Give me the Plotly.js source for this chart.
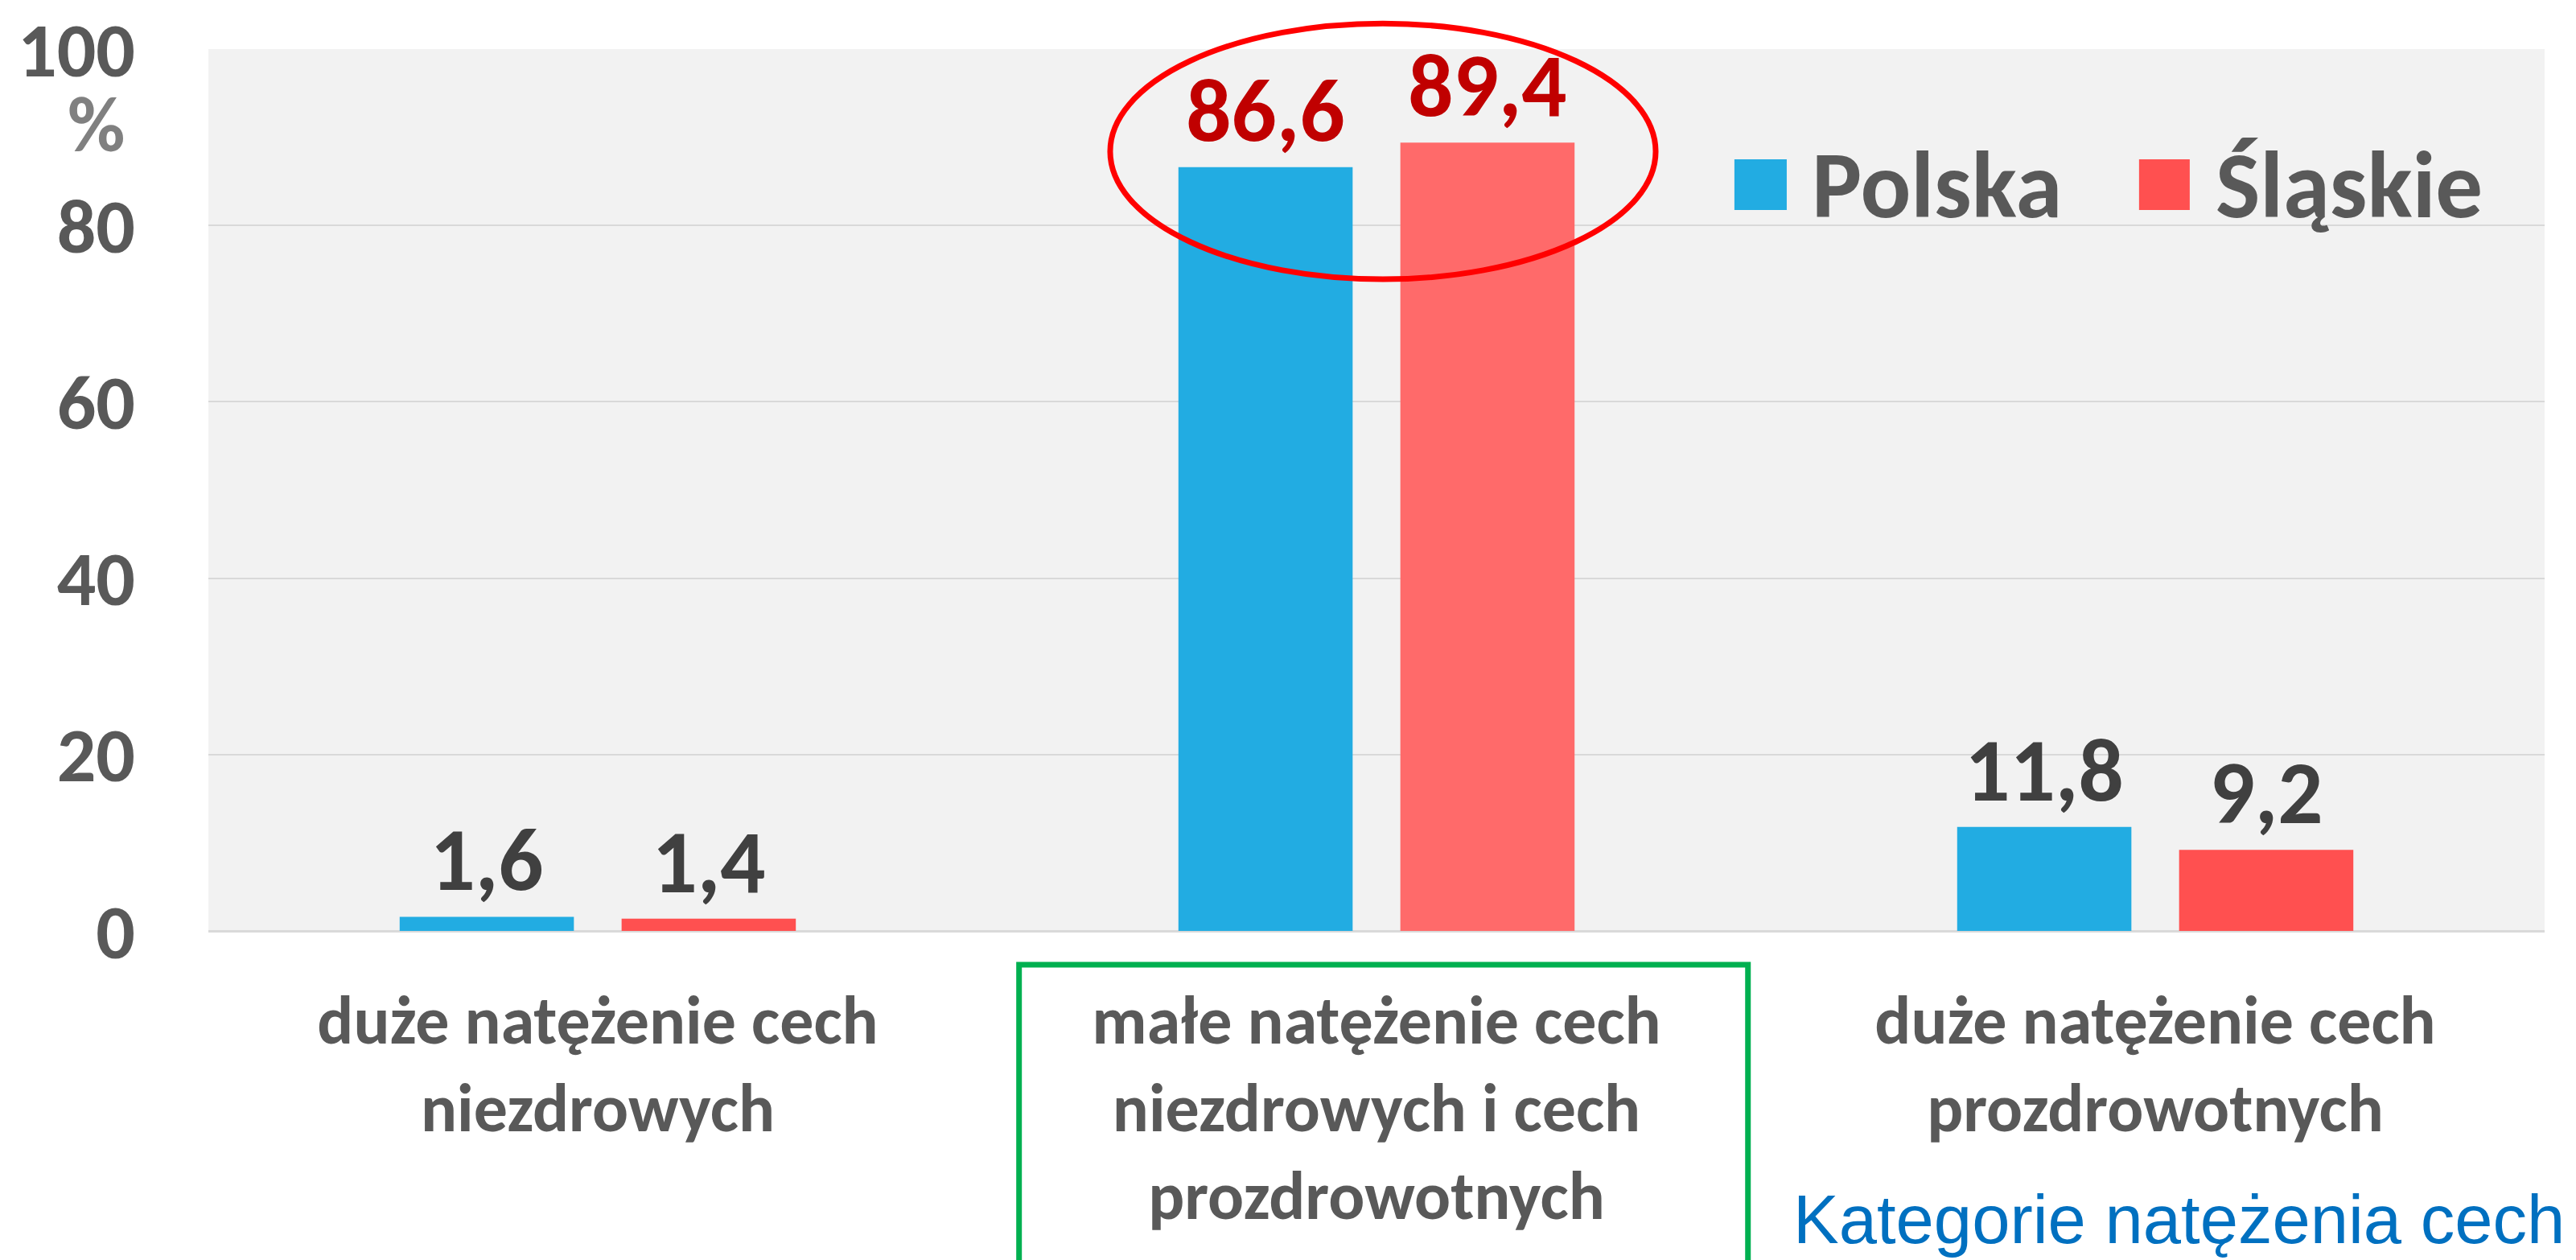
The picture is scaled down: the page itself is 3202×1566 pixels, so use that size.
<!DOCTYPE html>
<html>
<head>
<meta charset="utf-8">
<script src="https://cdn.plot.ly/plotly-3.0.1.min.js"></script>
<style>
  html, body { margin: 0; padding: 0; background: #ffffff; }
  #chart { width: 3202px; height: 1566px; }
</style>
</head>
<body>
<div id="chart"></div>
<script>
// ---- data ----
const categories = [
  'duże natężenie cech<br>niezdrowych',
  'małe natężenie cech<br>niezdrowych i cech<br>prozdrowotnych',
  'duże natężenie cech<br>prozdrowotnych'
];
const seriesNames = ['Polska', 'Śląskie'];
const polska = [1.6, 86.6, 11.8];
const slaskie = [1.4, 89.4, 9.2];
const yTickValues = [0, 20, 40, 60, 80, 100];
const yTickLabels = ['0', '20', '40', '60', '80', '100'];
const yUnit = '%';
const xAxisTitle = 'Kategorie natężenia cech';

// ---- styles ----
const FONT = 'Carlito, Lato, "Open Sans", sans-serif';
const blue = '#22ACE2';
const redLegend = '#FF5050';
const redBars = ['#FF5050', '#FF6A6A', '#FF5050'];
const labelColors = ['#404040', '#C00000', '#404040'];

const common = {
  type: 'bar',
  x: categories,
  texttemplate: '%{y:.1f}',
  textposition: 'outside',
  cliponaxis: false,
  textfont: { family: FONT, size: 111, weight: 'bold', color: labelColors },
  hoverinfo: 'skip',
  showlegend: false
};

const traces = [
  Object.assign({}, common, { name: seriesNames[0], y: polska, marker: { color: blue, line: { width: 0 } } }),
  Object.assign({}, common, { name: seriesNames[1], y: slaskie, marker: { color: redBars, line: { width: 0 } } })
];

const layout = {
  width: 3202,
  height: 1566,
  margin: { l: 259, r: 39, t: 61, b: 409, pad: 0 },
  paper_bgcolor: '#ffffff',
  plot_bgcolor: '#F2F2F2',
  separators: ', ',
  barmode: 'group',
  bargap: 0.43,
  bargroupgap: 0.215,
  showlegend: false,
  font: { family: FONT, color: '#595959' },
  xaxis: {
    type: 'category',
    showgrid: false,
    showline: false,
    zeroline: false,
    ticks: '',
    ticklabelstandoff: 55,
    tickfont: { family: FONT, size: 84, weight: 'bold', color: '#595959' },
    fixedrange: true
  },
  yaxis: {
    range: [0, 100],
    tickmode: 'array',
    tickvals: yTickValues,
    ticktext: yTickLabels,
    showgrid: true,
    gridcolor: '#D9D9D9',
    gridwidth: 2,
    zeroline: true,
    zerolinecolor: '#D9D9D9',
    zerolinewidth: 3,
    showline: false,
    ticks: '',
    ticklabelstandoff: 90,
    tickfont: { family: FONT, size: 96, weight: 'bold', color: '#595959' },
    fixedrange: true
  },
  shapes: [
    // red ellipse around middle values
    { type: 'circle', xref: 'paper', yref: 'paper', x0: 0.386, x1: 0.6195, y0: 0.739, y1: 1.029,
      line: { color: '#FF0000', width: 7 }, fillcolor: 'rgba(0,0,0,0)', layer: 'above' },
    // green frame around middle category label
    { type: 'rect', xref: 'paper', yref: 'paper', x0: 0.347, x1: 0.659, y0: -0.0383, y1: -0.45,
      line: { color: '#00B050', width: 7 }, fillcolor: 'rgba(0,0,0,0)', layer: 'above' },
    // legend swatches
    { type: 'rect', xref: 'paper', yref: 'paper', x0: 0.6532, x1: 0.6756, y0: 0.8175, y1: 0.875,
      line: { width: 0 }, fillcolor: blue },
    { type: 'rect', xref: 'paper', yref: 'paper', x0: 0.8264, x1: 0.8481, y0: 0.8175, y1: 0.875,
      line: { width: 0 }, fillcolor: redLegend }
  ],
  annotations: [
    { text: seriesNames[0], xref: 'paper', yref: 'paper', x: 0.6856, y: 0.8458, xanchor: 'left', yanchor: 'middle',
      showarrow: false, font: { family: FONT, size: 117, weight: 'bold', color: '#595959' } },
    { text: seriesNames[1], xref: 'paper', yref: 'paper', x: 0.8585, y: 0.8458, xanchor: 'left', yanchor: 'middle',
      showarrow: false, font: { family: FONT, size: 117, weight: 'bold', color: '#595959' } },
    { text: yUnit, xref: 'paper', yref: 'paper', x: -0.0479, y: 0.915, xanchor: 'center', yanchor: 'middle',
      showarrow: false, font: { family: FONT, size: 98, weight: 'bold', color: '#808080' } },
    { text: xAxisTitle, xref: 'paper', yref: 'paper', x: 1.0092, y: -0.3275, xanchor: 'right', yanchor: 'middle',
      showarrow: false, font: { family: '"Liberation Sans", Arial, sans-serif', size: 85, color: '#0070C0' } }
  ]
};

Plotly.newPlot('chart', traces, layout, { staticPlot: true, displayModeBar: false });
</script>
</body>
</html>
